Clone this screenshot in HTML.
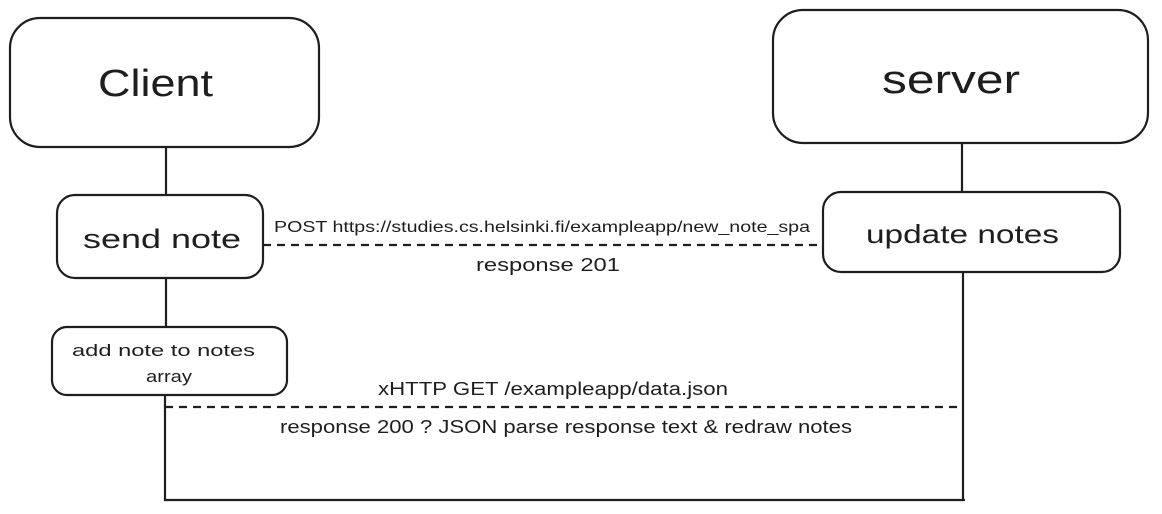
<!DOCTYPE html>
<html><head><style>body{margin:0;background:#fff}svg{display:block}text{font-family:"Liberation Sans",sans-serif;fill:#1e1e1e}</style></head><body>
<svg width="1162" height="514" viewBox="0 0 1162 514" xmlns="http://www.w3.org/2000/svg">
<g fill="none" stroke="#1e1e1e" stroke-width="2.2">
<rect x="10" y="18" width="309" height="129" rx="30"/>
<rect x="773" y="10" width="375" height="133" rx="30"/>
<rect x="57" y="195" width="206" height="83" rx="18"/>
<rect x="52" y="327" width="235" height="68" rx="15"/>
<rect x="823" y="192" width="297" height="80" rx="18"/>
<path d="M166 147V195M166 278V327M165 395V500H965M962 143V192M963 272V500"/>
<path d="M263 245H823M165 407H962" stroke-dasharray="8 6"/>
</g>
<text x="98" y="96" font-size="38" textLength="115" lengthAdjust="spacingAndGlyphs">Client</text>
<text x="882" y="93" font-size="40" textLength="138" lengthAdjust="spacingAndGlyphs">server</text>
<text x="83" y="248" font-size="27" textLength="158" lengthAdjust="spacingAndGlyphs">send note</text>
<text x="72" y="356" font-size="17" textLength="183" lengthAdjust="spacingAndGlyphs">add note to notes</text>
<text x="146" y="382" font-size="17" textLength="46" lengthAdjust="spacingAndGlyphs">array</text>
<text x="866" y="243" font-size="26" textLength="193" lengthAdjust="spacingAndGlyphs">update notes</text>
<text x="274" y="232" font-size="16" textLength="536" lengthAdjust="spacingAndGlyphs">POST https://studies.cs.helsinki.fi/exampleapp/new_note_spa</text>
<text x="476" y="271" font-size="18" textLength="144" lengthAdjust="spacingAndGlyphs">response 201</text>
<text x="378" y="395" font-size="18" textLength="350" lengthAdjust="spacingAndGlyphs">xHTTP GET /exampleapp/data.json</text>
<text x="280" y="433" font-size="18" textLength="572" lengthAdjust="spacingAndGlyphs">response 200 ? JSON parse response text &amp; redraw notes</text>
</svg>
</body></html>
